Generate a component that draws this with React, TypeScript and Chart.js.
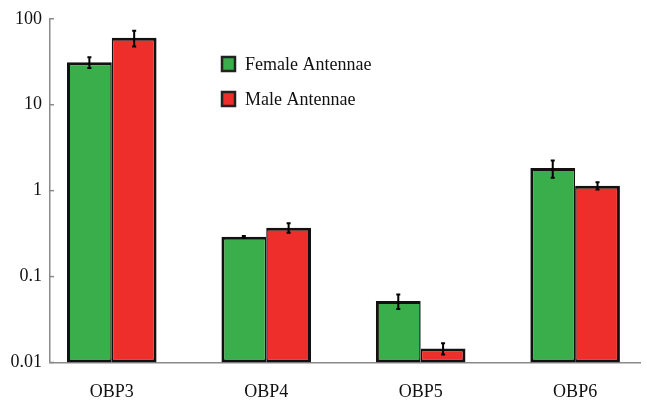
import React, { useEffect, useRef } from "react";
import { Chart, registerables } from "chart.js";

Chart.register(...registerables);

const categories = ["OBP3", "OBP4", "OBP5", "OBP6"];
const seriesNames = ["Female Antennae", "Male Antennae"];
const femaleValues = [31.3, 0.29, 0.052, 1.83];
const femaleErrors = [4.5, 0.007, 0.01, 0.42];
const maleValues = [60, 0.37, 0.0146, 1.14];
const maleErrors = [12.5, 0.047, 0.0022, 0.11];
const yTickValues = [0.01, 0.1, 1, 10, 100];
const yTickLabels = ["0.01", "0.1", "1", "10", "100"];

const GREEN = "#3aae4a";
const RED = "#ee2e2a";
const AXIS = "#8a8a8a";
const FONT = "'Liberation Serif', 'Times New Roman', serif";

const errorBarPlugin = {
  id: "errorBars",
  afterDatasetsDraw(chart: any) {
    const ctx = chart.ctx;
    const yScale = chart.scales.y;
    ctx.save();
    ctx.strokeStyle = "#000";
    ctx.lineWidth = 2;
    chart.data.datasets.forEach((ds: any, di: number) => {
      const meta = chart.getDatasetMeta(di);
      meta.data.forEach((el: any, i: number) => {
        const v = ds.data[i].y;
        const e = ds.errors[i];
        const yTop = yScale.getPixelForValue(v + e);
        const yBot = yScale.getPixelForValue(Math.max(v - e, 1e-6));
        ctx.beginPath();
        ctx.moveTo(el.x, yTop);
        ctx.lineTo(el.x, yBot);
        ctx.moveTo(el.x - 2, yTop);
        ctx.lineTo(el.x + 2, yTop);
        ctx.moveTo(el.x - 2, yBot);
        ctx.lineTo(el.x + 2, yBot);
        ctx.stroke();
      });
    });
    ctx.restore();
  },
};

const innerTicksPlugin = {
  id: "innerTicks",
  afterDraw(chart: any) {
    const ctx = chart.ctx;
    const yScale = chart.scales.y;
    const left = chart.chartArea.left;
    ctx.save();
    ctx.strokeStyle = AXIS;
    ctx.lineWidth = 1.5;
    yTickValues.forEach((v) => {
      const y = yScale.getPixelForValue(v);
      ctx.beginPath();
      ctx.moveTo(left, y);
      ctx.lineTo(left + 4, y);
      ctx.stroke();
    });
    ctx.restore();
  },
};

const legendPlugin = {
  id: "customLegend",
  afterDraw(chart: any) {
    const ctx = chart.ctx;
    ctx.save();
    ctx.font = `18px ${FONT}`;
    ctx.textBaseline = "middle";
    chart.data.datasets.forEach((ds: any, i: number) => {
      const cy = 64 + i * 35;
      ctx.fillStyle = ds.backgroundColor;
      ctx.fillRect(222, cy - 7, 13, 14);
      ctx.strokeStyle = "#222";
      ctx.lineWidth = 2.5;
      ctx.strokeRect(222, cy - 7, 13, 14);
      ctx.fillStyle = "#111";
      ctx.fillText(ds.label, 245, cy + 1);
    });
    ctx.restore();
  },
};

export default function App() {
  const canvasRef = useRef<HTMLCanvasElement | null>(null);

  useEffect(() => {
    document.body.style.margin = "0";
    const canvas = canvasRef.current;
    if (!canvas) return;
    const chart = new Chart(canvas, {
      type: "bar",
      data: {
        datasets: [
          {
            label: seriesNames[0],
            data: femaleValues.map((v, i) => ({ x: i, y: v })),
            errors: femaleErrors,
            backgroundColor: GREEN,
            borderColor: "#111",
            borderWidth: { top: 3, left: 3, bottom: 3, right: 1.5 },
            borderSkipped: false,
            inflateAmount: 0,
          } as any,
          {
            label: seriesNames[1],
            data: maleValues.map((v, i) => ({ x: i, y: v })),
            errors: maleErrors,
            backgroundColor: RED,
            borderColor: "#111",
            borderWidth: { top: 3, left: 1.5, bottom: 3, right: 3 },
            borderSkipped: false,
            inflateAmount: 0,
          } as any,
        ],
      },
      options: {
        responsive: false,
        animation: false,
        devicePixelRatio: 1,
        categoryPercentage: 0.58,
        barPercentage: 1.0,
        layout: { padding: { top: 17.5, right: 7, left: 0, bottom: 0 } },
        plugins: {
          legend: { display: false },
          tooltip: { enabled: false },
        },
        scales: {
          x: {
            type: "linear",
            min: -0.4,
            max: 3.42,
            offset: false,
            afterBuildTicks: (s: any) => {
              s.ticks = categories.map((_, i) => ({ value: i }));
            },
            afterFit: (s: any) => {
              s.height = 38.5;
            },
            grid: { display: false, drawTicks: false },
            border: { display: true, color: AXIS, width: 1.5 },
            ticks: {
              padding: 19,
              color: "#111",
              font: { family: FONT, size: 18 },
              maxRotation: 0,
              autoSkip: false,
              callback: (v: any) => categories[v] ?? "",
            },
          },
          y: {
            type: "logarithmic",
            min: 0.01,
            max: 100,
            afterBuildTicks: (s: any) => {
              s.ticks = yTickValues.map((v) => ({ value: v }));
            },
            afterFit: (s: any) => {
              s.width = 50;
            },
            grid: { drawOnChartArea: false, drawTicks: false },
            border: { display: true, color: AXIS, width: 1.5 },
            ticks: {
              padding: 8,
              color: "#111",
              font: { family: FONT, size: 18 },
              autoSkip: false,
              callback: (v: any) => {
                const idx = yTickValues.indexOf(v);
                return idx >= 0 ? yTickLabels[idx] : "";
              },
            },
          },
        },
      } as any,
      plugins: [errorBarPlugin, innerTicksPlugin, legendPlugin],
    });
    return () => chart.destroy();
  }, []);

  return (
    <div style={{ position: "absolute", left: 0, top: 0, width: 647, height: 401, background: "#fff" }}>
      <canvas ref={canvasRef} width={647} height={401} />
    </div>
  );
}
